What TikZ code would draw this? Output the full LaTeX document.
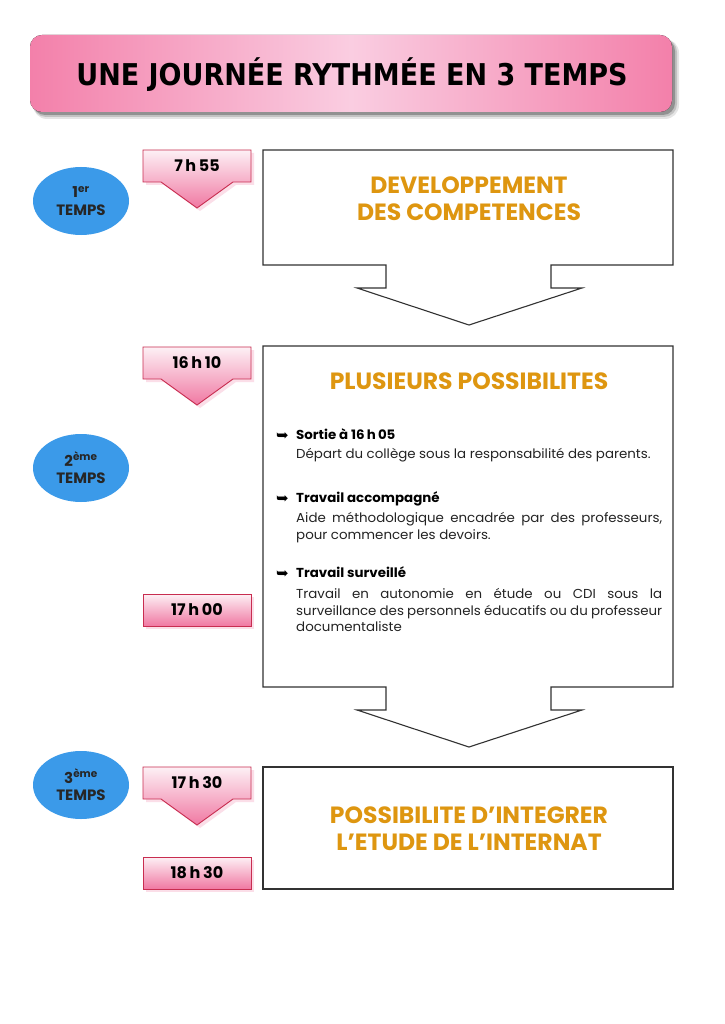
\documentclass[tikz,border=0pt]{standalone}
\usepackage{fontspec}
\setmainfont{Poppins}
\newfontfamily\bodyfont[FakeStretch=1.03]{Poppins}
\newfontfamily\condfont{DejaVu Sans Condensed}
\newfontfamily\symfont{DejaVu Sans}
\usetikzlibrary{shapes.geometric}
\definecolor{tpink}{RGB}{243,128,170}
\definecolor{tlight}{RGB}{250,205,225}
\definecolor{cbord}{RGB}{200,45,80}
\definecolor{ctop}{RGB}{253,240,245}
\definecolor{cbot}{RGB}{240,120,162}
\definecolor{eblue}{RGB}{59,154,233}
\definecolor{gold}{RGB}{222,150,16}
\definecolor{boxline}{RGB}{50,50,50}
\definecolor{txt}{RGB}{35,35,35}
\tikzset{
  timelabel/.style={font=\bfseries\fontsize{16}{18}\selectfont, text=black, inner sep=0pt},
  tellipse/.style={ellipse, fill=eblue, minimum width=96pt, minimum height=68pt, inner sep=0pt,
     align=center, font=\bfseries\fontsize{15}{17.5}\selectfont, text=black!85},
  headgold/.style={font=\bfseries\fontsize{23.5}{27}\selectfont, text=gold, align=center},
  bullhead/.style={font=\bodyfont\bfseries\fontsize{13}{16}\selectfont, text=black, anchor=base west, inner sep=0pt},
  bulletarrow/.style={font=\symfont\fontsize{15}{16}\selectfont, text=black, anchor=base west, inner sep=0pt},
  bulltext/.style={font=\bodyfont\fontsize{13}{16.8}\selectfont, text=txt, anchor=north west, inner sep=0pt,
     text width=366pt, align=justify},
  bigbox/.style={draw=boxline, line width=1.1pt, fill=white}
}
\newcommand\mycallout[3]{%
  \fill[cbot!40,opacity=0.6] (146,{#1+3}) -- (254,{#1+3}) -- (254,{#1+35}) -- (236,{#1+35}) -- (200,{#1+61}) -- (164,{#1+35}) -- (146,{#1+35}) -- cycle;
  \draw[cbord,line width=0.9pt,top color=ctop,bottom color=cbot] (143,#1) -- (251,#1) -- (251,{#1+32}) -- (233,{#1+32}) -- (197,{#1+58}) -- (161,{#1+32}) -- (143,{#1+32}) -- cycle;
  \node[timelabel] (#2) at (197,{#1+16}) {#3};
}
\newcommand\myrectcall[3]{%
  \fill[cbot!40,opacity=0.6] (146,{#1+3}) rectangle (254,{#1+35});
  \draw[cbord,line width=0.9pt,top color=ctop,bottom color=cbot] (143,#1) rectangle (251,{#1+32});
  \node[timelabel] (#2) at (197,{#1+16}) {#3};
}
\newcommand\bigarrowbox[2]{%
  \draw[bigbox] (263,#1) -- (673,#1) -- (673,#2) -- (551,#2) -- (551,{#2+23}) -- (582,{#2+23}) -- (469,{#2+60}) -- (357,{#2+23}) -- (386,{#2+23}) -- (386,#2) -- (263,#2) -- cycle;
}
\begin{document}
\begin{tikzpicture}[x=1pt,y=-1pt]
\useasboundingbox[fill=white] (0,0) rectangle (724,1024);
% title banner
\fill[black,opacity=0.10,rounded corners=14] (33,39) rectangle (679,119);
\fill[black,opacity=0.15,rounded corners=13] (33,39) rectangle (677,117);
\fill[black,opacity=0.25,rounded corners=12] (33,39) rectangle (675,115);
\fill[rounded corners=12,left color=tpink,right color=tpink,middle color=tlight] (30,35) rectangle (672,112);
\node[font=\condfont\bfseries\fontsize{30}{34}\selectfont, text=black] (title) at (352,75) {UNE JOURNÉE RYTHMÉE EN 3 TEMPS};
% ellipses
\node[tellipse] (t1) at (81,201) {1\textsuperscript{er}\\TEMPS};
\node[tellipse] (t2) at (81,468) {2\textsuperscript{ème}\\TEMPS};
\node[tellipse] (t3) at (81,785) {3\textsuperscript{ème}\\TEMPS};
% callouts
\mycallout{150}{c1}{7\,h\,55}
\mycallout{347}{c2}{16\,h\,10}
\myrectcall{594}{c3}{17\,h\,00}
\mycallout{767}{c4}{17\,h\,30}
\myrectcall{857}{c5}{18\,h\,30}
% big boxes
\bigarrowbox{150}{265}
\bigarrowbox{346}{687}
\draw[bigbox] (263,767) rectangle (673,889);
% box texts
\node[headgold] (h1) at (469,199) {DEVELOPPEMENT\\DES COMPETENCES};
\node[headgold] (h2) at (469,381) {PLUSIEURS POSSIBILITES};
\node[headgold] (h3) at (469,829) {POSSIBILITE D’INTEGRER\\L’ETUDE DE L’INTERNAT};
% bullets
\node[bulletarrow] (a1) at (276,440) {➥};
\node[bullhead] (b1) at (296,439) {Sortie à 16\,h\,05};
\node[bulltext] (d1) at (296,448) {Départ du collège sous la responsabilité des parents.};
\node[bulletarrow] (a2) at (276,503) {➥};
\node[bullhead] (b2) at (296,502) {Travail accompagné};
\node[bulltext] (d2) at (296,512) {Aide méthodologique encadrée par des professeurs,\linebreak pour commencer les devoirs.};
\node[bulletarrow] (a3) at (276,578) {➥};
\node[bullhead] (b3) at (296,577) {Travail surveillé};
\node[bulltext] (d3) at (296,588) {Travail en autonomie en étude ou CDI sous la\linebreak surveillance des personnels éducatifs ou du professeur\linebreak documentaliste};
\end{tikzpicture}
\end{document}
